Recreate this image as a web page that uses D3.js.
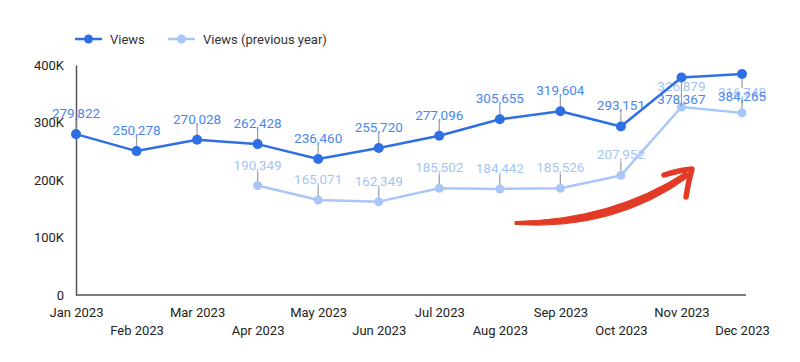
<!DOCTYPE html>
<html>
<head>
<meta charset="utf-8">
<script src="https://cdn.jsdelivr.net/npm/d3@7"></script>
<style>
  html, body { margin: 0; padding: 0; background: #fff; }
  svg { display: block; font-family: Roboto, "Noto Sans", sans-serif; }
</style>
</head>
<body>
<svg id="chart" width="800" height="362"></svg>
<script>
const months = ["Jan 2023","Feb 2023","Mar 2023","Apr 2023","May 2023","Jun 2023","Jul 2023","Aug 2023","Sep 2023","Oct 2023","Nov 2023","Dec 2023"];
const views = [279822, 250278, 270028, 262428, 236460, 255720, 277096, 305655, 319604, 293151, 378367, 384265];
const viewsPrev = [null, null, null, 190349, 165071, 162349, 185502, 184442, 185526, 207952, 326879, 316748];
const yTicks = [0, 100000, 200000, 300000, 400000];
const seriesNames = ["Views", "Views (previous year)"];

const C_VIEWS = "#2f6fe4", C_VIEWS_LBL = "#4b86ef";
const C_PREV = "#a8c7f8", C_PREV_LBL = "#a6c4f4";

const svg = d3.select("#chart");
const x = d3.scalePoint().domain(months).range([76, 742]);
const y = d3.scaleLinear().domain([0, 400000]).range([295, 65]);
const fmt = d3.format(",");

// Axes
const yAxis = svg.append("g").attr("transform", "translate(76,0)")
  .call(d3.axisLeft(y).tickValues(yTicks).tickSize(0).tickPadding(12)
    .tickFormat(d => d === 0 ? "0" : (d / 1000) + "K"));
yAxis.select(".domain").attr("stroke", "#555").attr("stroke-width", 1.5);
yAxis.selectAll("text").attr("font-size", 13).attr("fill", "#222").attr("font-family", "Roboto");

const xAxis = svg.append("g").attr("transform", "translate(0,295)")
  .call(d3.axisBottom(x).tickSize(0).tickPadding(0));
xAxis.select(".domain").attr("stroke", "#555").attr("stroke-width", 1.5).attr("d", "M76,0H746");
xAxis.selectAll("text")
  .attr("font-size", 13).attr("fill", "#222").attr("font-family", "Roboto")
  .attr("dy", null)
  .attr("y", (d, i) => i % 2 === 0 ? 22 : 40);

function drawSeries(data, color, lblColor, r) {
  const pts = months.map((m, i) => ({ m, v: data[i] })).filter(d => d.v != null);
  const line = d3.line().x(d => x(d.m)).y(d => y(d.v));
  const g = svg.append("g");
  g.append("path").datum(pts).attr("d", line).attr("fill", "none")
    .attr("stroke", color).attr("stroke-width", 2.5).attr("stroke-linejoin", "round");
  return { g, pts, r, color, lblColor };
}

function drawMarksAndLabels(s) {
  const { g, pts, r, color, lblColor } = s;
  pts.forEach(d => {
    const px = x(d.m), py = y(d.v);
    const below = d.v > 350000 && s.color === C_VIEWS;
    const lineEnd = below ? py + 14 : py - 14;
    g.append("line").attr("x1", px).attr("x2", px).attr("y1", py).attr("y2", lineEnd)
      .attr("stroke", "#999").attr("stroke-width", 1.2);
  });
  pts.forEach(d => {
    const px = x(d.m), py = y(d.v);
    g.append("circle").attr("cx", px).attr("cy", py).attr("r", r).attr("fill", color);
  });
  pts.forEach(d => {
    const px = x(d.m), py = y(d.v);
    const below = d.v > 350000 && s.color === C_VIEWS;
    g.append("text").attr("x", px).attr("y", below ? py + 27 : py - 16)
      .attr("text-anchor", "middle").attr("font-size", 13.5).attr("fill", lblColor)
      .attr("font-family", "Roboto")
      .text(fmt(d.v));
  });
}

const sPrev = drawSeries(viewsPrev, C_PREV, C_PREV_LBL, 4.5);
const sViews = drawSeries(views, C_VIEWS, C_VIEWS_LBL, 5);
drawMarksAndLabels(sPrev);
drawMarksAndLabels(sViews);

// Legend
const legend = svg.append("g");
[[75, C_VIEWS, seriesNames[0]], [168, C_PREV, seriesNames[1]]].forEach(([lx, c, t]) => {
  legend.append("line").attr("x1", lx).attr("x2", lx + 27).attr("y1", 39).attr("y2", 39)
    .attr("stroke", c).attr("stroke-width", 2.5);
  legend.append("circle").attr("cx", lx + 13.5).attr("cy", 39).attr("r", 4.5).attr("fill", c);
  legend.append("text").attr("x", lx + 35).attr("y", 44).attr("font-size", 13)
    .attr("fill", "#333").attr("font-family", "Roboto").text(t);
});

// Red arrow annotation
const arrow = svg.append("g").attr("fill", "#e33a26").attr("stroke", "#e33a26");
arrow.append("path")
  .attr("d", "M515,221.5 Q612,220 686,172 L690,176 Q615,231 515,224.5 Z")
  .attr("stroke-width", 1).attr("stroke-linejoin", "round");
arrow.append("path")
  .attr("d", "M664,175 Q680,170 692,169 Q688,183 686,197")
  .attr("fill", "none").attr("stroke-width", 5.5).attr("stroke-linecap", "round").attr("stroke-linejoin", "round");
</script>
</body>
</html>
